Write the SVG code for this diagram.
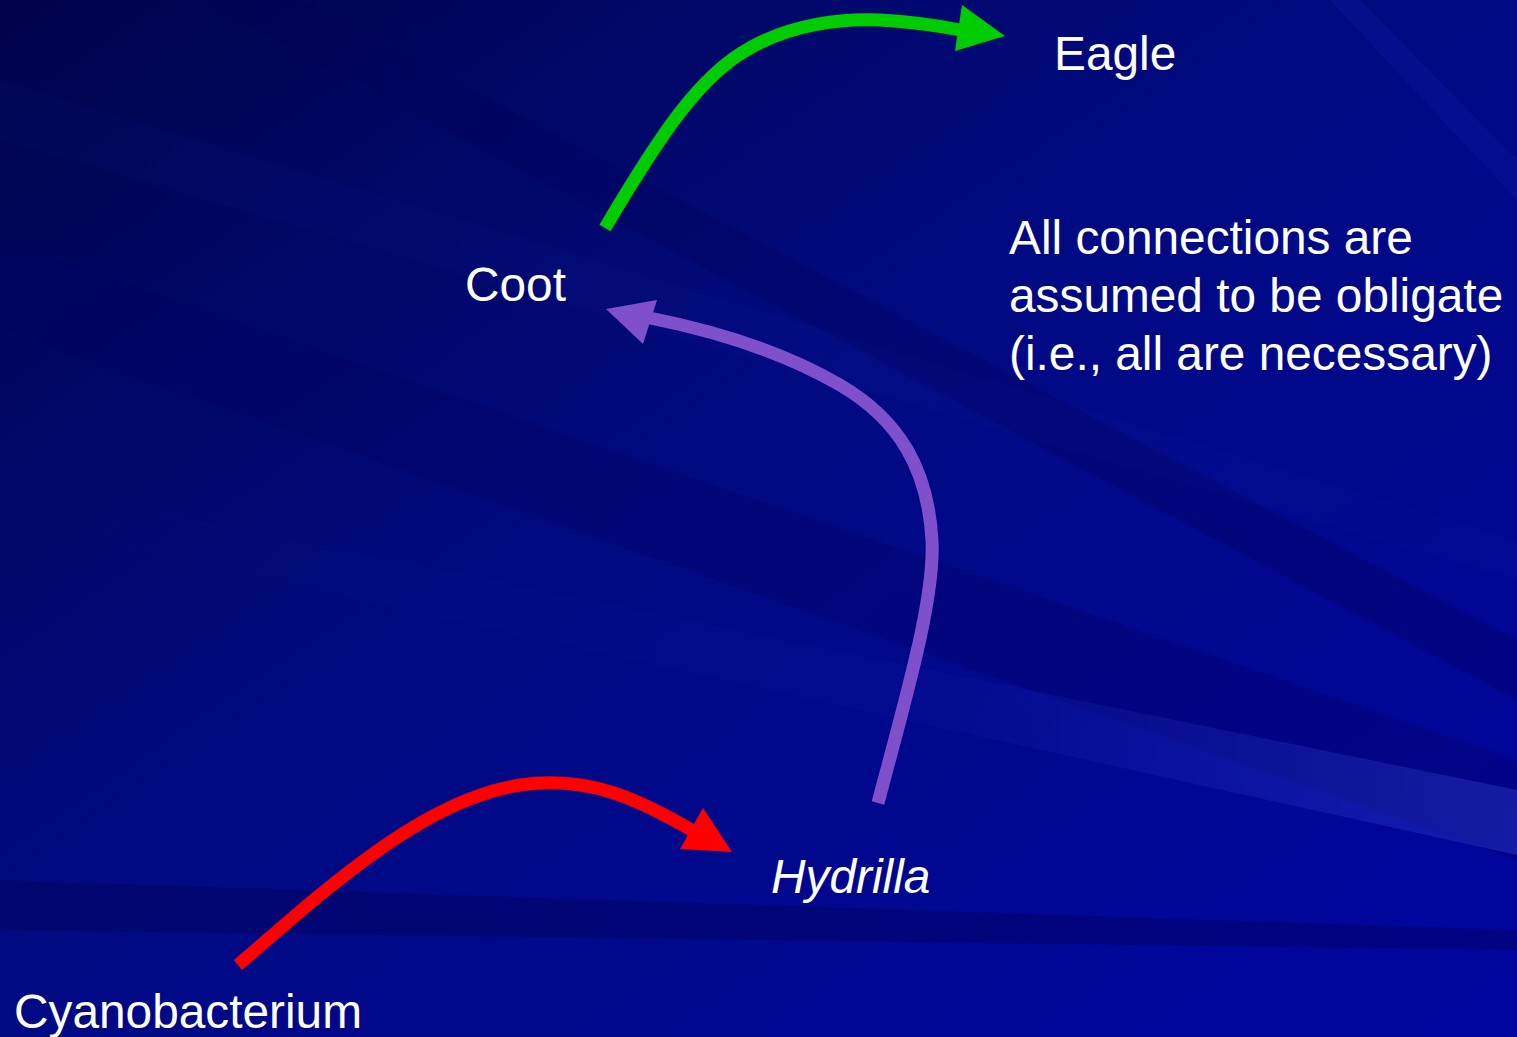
<svg xmlns="http://www.w3.org/2000/svg" width="1517" height="1037" viewBox="0 0 1517 1037">
<defs>
<linearGradient id="bg" x1="0" y1="0" x2="1" y2="1">
<stop offset="0" stop-color="#00034a"/>
<stop offset="0.45" stop-color="#000a80"/>
<stop offset="1" stop-color="#0004a0"/>
</linearGradient>
<linearGradient id="streak" x1="0" y1="0" x2="1" y2="0">
<stop offset="0" stop-color="#3040d0" stop-opacity="0"/>
<stop offset="0.6" stop-color="#3040d0" stop-opacity="0.05"/>
<stop offset="1" stop-color="#3a48d8" stop-opacity="0.35"/>
</linearGradient>
<style>
.lbl{font-family:"Liberation Sans",Arial,sans-serif;font-size:47.8px;fill:#ffffff}
.it{font-style:italic}
.arr{fill:none;stroke-width:13;stroke-linecap:butt}
</style>
</defs>
<rect width="1517" height="1037" fill="url(#bg)"/>
<g id="background-streaks">
<polygon points="0,240 1517,760 1517,860 0,330" fill="#000060" opacity="0.3"/>
<polygon points="0,480 1517,790 1517,855 0,520" fill="url(#streak)"/>
<polygon points="0,880 1517,930 1517,950 0,930" fill="#000050" opacity="0.35"/>
<polygon points="300,0 1517,640 1517,700 200,0" fill="#000055" opacity="0.3"/>
<polygon points="0,80 1517,540 1517,580 0,140" fill="#1a2ab0" opacity="0.07"/>
<polygon points="1360,0 1517,160 1517,200 1330,0" fill="#2030c0" opacity="0.15"/>
</g>
<g id="connectors">
<path class="arr" stroke="#00cc00" d="M605,228 C660,135 700,75 750,48 C790,25 840,18 880,20 C915,22 940,26 960,30"/>
<polygon fill="#00cc00" points="1005,36 962,5 955,51"/>
<path class="arr" stroke="#7f4fcc" stroke-width="12" d="M878,803 C905,700 935,600 932,540 C928,470 900,420 840,385 C780,350 710,330 650,318"/>
<polygon fill="#7f4fcc" points="606,309 657,300 643,344"/>
<path class="arr" stroke="#ff0000" d="M238,965 C320,895 420,800 520,785 C590,775 640,800 695,832"/>
<polygon fill="#ff0000" points="732,852 703,808 680,849"/>
</g>
<g id="node-eagle"><text class="lbl" x="1054" y="70">Eagle</text></g>
<g id="node-coot"><text class="lbl" x="465" y="301">Coot</text></g>
<g id="node-hydrilla"><text class="lbl it" x="771" y="893">Hydrilla</text></g>
<g id="node-cyanobacterium"><text class="lbl" x="14" y="1028">Cyanobacterium</text></g>
<g id="note">
<text class="lbl" x="1009" y="254">All connections are</text>
<text class="lbl" x="1009" y="312">assumed to be obligate</text>
<text class="lbl" x="1009" y="370">(i.e., all are necessary)</text>
</g>
</svg>
